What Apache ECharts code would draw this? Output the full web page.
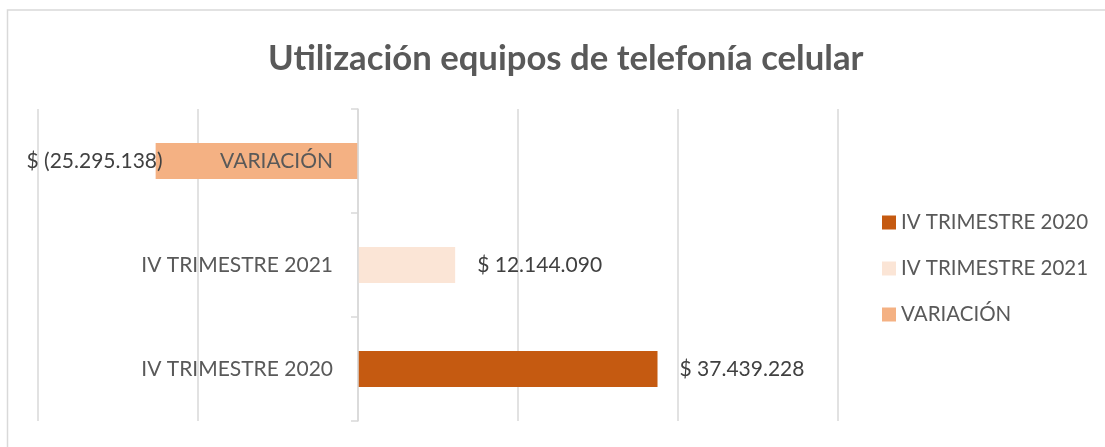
<!DOCTYPE html>
<html>
<head>
<meta charset="utf-8">
<script src="https://cdn.jsdelivr.net/npm/echarts@6/dist/echarts.min.js"></script>
<style>
html, body { margin: 0; padding: 0; background: #fff; }
#main { width: 1105px; height: 447px; }
</style>
</head>
<body>
<div id="main"></div>
<script>
var categories = ['IV TRIMESTRE 2020', 'IV TRIMESTRE 2021', 'VARIACIÓN'];
var seriesNames = ['IV TRIMESTRE 2020', 'IV TRIMESTRE 2021', 'VARIACIÓN'];
var values2020 = [37439228, null, null];
var values2021 = [null, 12144090, null];
var valuesVariacion = [null, null, -25295138];
var seriesColors = ['#C55A11', '#FBE5D6', '#F4B183'];

function formatMoney(v) {
    var s = Math.abs(v).toString().replace(/\B(?=(\d{3})+(?!\d))/g, '.');
    return v < 0 ? '$ (' + s + ')' : '$ ' + s;
}

var font = 'Lato';
var chart = echarts.init(document.getElementById('main'));

function makeSeries(name, data, color) {
    var neg = data.some(function (d) { return d < 0; });
    return {
        name: name,
        type: 'bar',
        stack: 'all',
        data: data,
        barWidth: 36,
        itemStyle: { color: color },
        label: {
            show: true,
            position: neg ? 'left' : 'right',
            distance: neg ? -7 : 22,
            color: '#404040',
            fontFamily: font,
            fontSize: 21,
            formatter: function (p) { return formatMoney(p.value); }
        }
    };
}

var option = {
    animation: false,
    title: {
        text: 'Utilización equipos de telefonía celular',
        left: 263,
        top: 36,
        textStyle: { color: '#595959', fontFamily: font, fontWeight: 'bold', fontSize: 34.7 }
    },
    legend: {
        orient: 'vertical',
        left: 877,
        top: 207,
        itemWidth: 14,
        itemHeight: 14,
        itemGap: 25,
        icon: 'rect',
        data: seriesNames,
        textStyle: { color: '#595959', fontFamily: font, fontSize: 20.5 }
    },
    grid: { left: 38, right: 267, top: 109, bottom: 26, containLabel: false, outerBoundsMode: 'none' },
    xAxis: {
        type: 'value',
        min: -40000000,
        max: 60000000,
        interval: 20000000,
        axisLabel: { show: false },
        axisLine: { show: false },
        axisTick: { show: false },
        splitLine: { lineStyle: { color: '#D9D9D9', width: 1.5 } }
    },
    yAxis: {
        type: 'category',
        data: categories,
        position: 'left',
        offset: -320,
        z: 5,
        axisLine: { onZero: false, lineStyle: { color: '#D9D9D9', width: 1.5 } },
        axisTick: { show: true, length: 7, lineStyle: { color: '#D9D9D9', width: 1.5 } },
        axisLabel: { margin: 25, color: '#595959', fontFamily: font, fontSize: 21 }
    },
    graphic: [{
        type: 'rect',
        shape: { x: 7.5, y: 10, width: 1200, height: 500 },
        style: { fill: 'none', stroke: '#D9D9D9', lineWidth: 1.5 },
        silent: true
    }],
    series: [
        makeSeries(seriesNames[0], values2020, seriesColors[0]),
        makeSeries(seriesNames[1], values2021, seriesColors[1]),
        makeSeries(seriesNames[2], valuesVariacion, seriesColors[2])
    ]
};
chart.setOption(option);
</script>
</body>
</html>
